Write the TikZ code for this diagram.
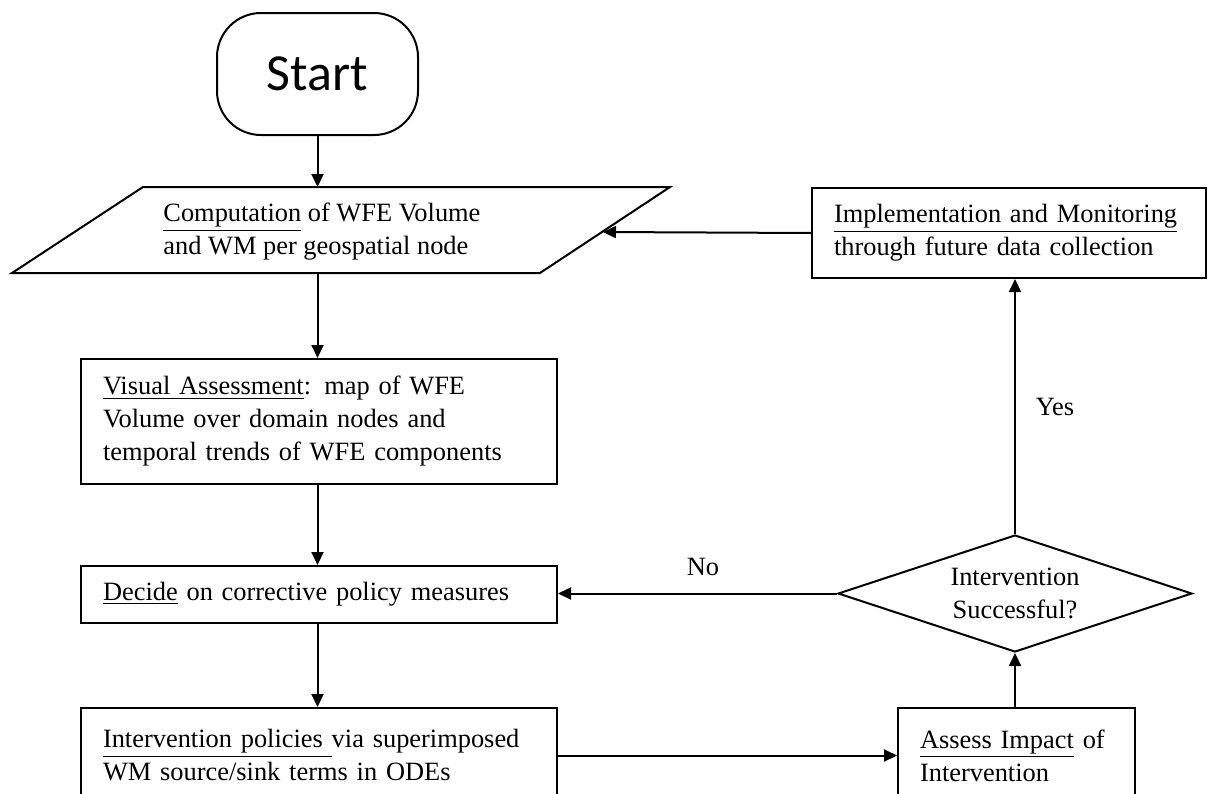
\documentclass[tikz,border=0pt]{standalone}
\usepackage{fontspec}
\setmainfont{Liberation Serif}
\newfontfamily\startfont{Carlito}
\usetikzlibrary{shapes.geometric,arrows.meta}
\begin{document}
\begin{tikzpicture}[x=0.5pt,y=-0.5pt,
  every node/.style={font=\fontsize{13.2}{16.5}\selectfont},
  box/.style={draw,line width=1pt,rectangle,inner xsep=11pt,inner ysep=0pt,
    align=left,anchor=north west},
  conn/.style={line width=1pt,-{Triangle[length=6.5pt,width=6pt]}},
  lbl/.style={inner sep=0pt}]
\clip (0,0) rectangle (1210,793);
\fill[white] (0,0) rectangle (1210,793);

% Start
\node[draw,line width=1pt,rounded corners=22pt,minimum width=100.5pt,minimum height=61pt,
  font=\startfont\fontsize{26}{30}\selectfont] (start) at (317.5,74) {Start};

% Parallelogram
\draw[line width=1pt] (143,187) -- (670,187) -- (540,273) -- (12,273) -- cycle;
\coordinate (pTop) at (317.5,187);
\coordinate (pBot) at (317.5,273);
\coordinate (pRight) at (603,232);
\node[align=left,anchor=west,inner sep=0pt] (comp) at (163,232)
  {\mbox{\underline{Computation} of WFE Volume}\\\mbox{and WM per geospatial node}};

% Left column boxes
\node[box,minimum width=238pt,text width=216pt,minimum height=62.5pt] (visual) at (80,358)
  {\mbox{\underline{Visual Assessment}: map of WFE}\\\mbox{Volume over domain nodes and}\\\mbox{temporal trends of WFE components}};
\node[box,minimum width=238pt,text width=216pt,minimum height=28.5pt] (decide) at (80,565)
  {\mbox{\underline{Decide} on corrective policy measures}};
\node[box,minimum width=238pt,text width=216pt,minimum height=47.5pt] (interv) at (80,707)
  {\mbox{\underline{Intervention policies\ }via superimposed}\\\mbox{WM source/sink terms in ODEs}};

% Right column
\node[box,minimum width=197pt,text width=175pt,minimum height=45pt] (impl) at (811,187)
  {\mbox{\underline{Implementation and Monitoring}}\\\mbox{through future data collection}};
\node[draw,line width=1pt,shape=diamond,aspect=3,minimum width=177pt,minimum height=58.5pt,
  inner sep=0pt,align=center] (dia) at (1015,593.5) {Intervention\\Successful?};
\node[box,minimum width=117.5pt,text width=96.5pt,minimum height=47.5pt] (assess) at (897,707)
  {\mbox{\underline{Assess Impact} of}\\\mbox{Intervention}};

% Connectors
\draw[conn] (start.south) -- (pTop);
\draw[conn] (pBot) -- (pBot |- visual.north);
\draw[conn] (pBot |- visual.south) -- (pBot |- decide.north);
\draw[conn] (pBot |- decide.south) -- (pBot |- interv.north);
\draw[conn] (interv.east) -- (assess.west);
\draw[conn] (dia.south |- assess.north) -- (dia.south);
\draw[conn] (dia.west) -- (dia.west -| decide.east);
\draw[conn] (dia.north) -- (dia.north |- impl.south);
\draw[conn] (impl.west) -- (pRight);

% Labels
\node[lbl] (nolbl) at (703,567) {No};
\node[lbl] (yeslbl) at (1055,407) {Yes};
\end{tikzpicture}
\end{document}
